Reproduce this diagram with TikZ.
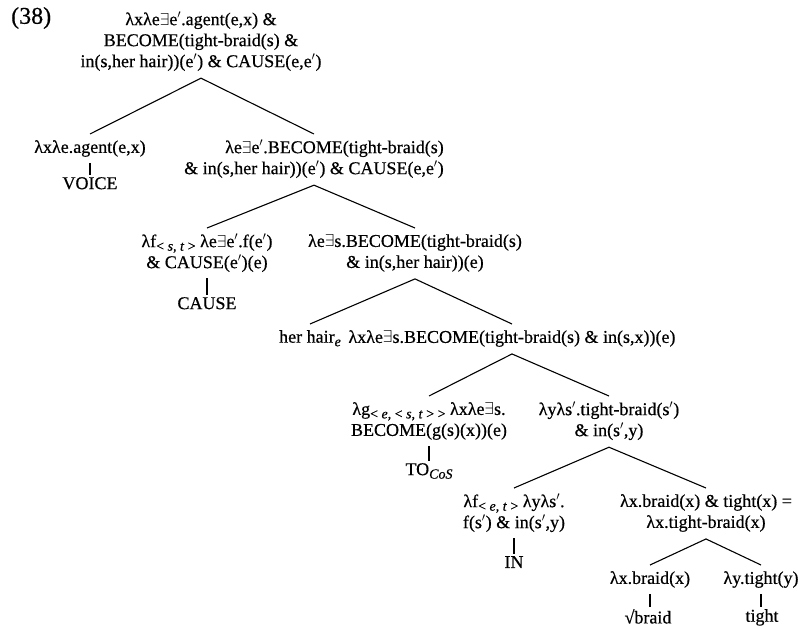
\documentclass[tikz,border=0pt]{standalone}
\usepackage{fontspec}
\setmainfont{Liberation Serif}[FakeBold=0.5]
\newcommand\tsz{\fontsize{18}{21}\selectfont}
\newcommand\EX{$\exists$}
\newcommand\pr{$'$}
\newcommand\sbs[1]{\raisebox{-3.5pt}{\fontsize{14}{15}\selectfont #1}}
\newcommand\ita[1]{\textit{#1}}
\begin{document}
\begin{tikzpicture}[x=1pt,y=-1pt,
  lbl/.style={inner sep=0pt, anchor=north, align=center, font=\tsz},
  br/.style={line width=1.1pt}]
\fill[white] (0,0) rectangle (803,629);
\useasboundingbox (0,0) rectangle (803,629);
\node[anchor=west, inner sep=0pt, font=\fontsize{24}{26}\selectfont] (num) at (11,18) {(38)};
\node[lbl] (root) at (201,12) {λxλe\EX e\pr.agent(e,x) \&\\ BECOME(tight-braid(s) \&\\ in(s,her hair))(e\pr) \& CAUSE(e,e\pr)};
\node[lbl] (agent) at (90,140) {λxλe.agent(e,x)};
\node[lbl] (voice) at (90,177) {VOICE};
\node[lbl, align=right] (bc) at (314,140) {λe\EX e\pr.BECOME(tight-braid(s)\\ \& in(s,her hair))(e\pr) \& CAUSE(e,e\pr)};
\node[lbl] (fc) at (207,234) {λf\sbs{< \ita{s}, \ita{t} >} λe\EX e\pr.f(e\pr)\\ \& CAUSE(e\pr)(e)};
\node[lbl] (cause) at (207,297) {CAUSE};
\node[lbl] (bs) at (415,234) {λe\EX s.BECOME(tight-braid(s)\\ \& in(s,her hair))(e)};
\node[lbl] (hh) at (310,330) {her hair\sbs{\ita{e}}};
\node[lbl] (lxb) at (512,330) {λxλe\EX s.BECOME(tight-braid(s) \& in(s,x))(e)};
\node[lbl] (lg) at (429,402) {λg\sbs{< \ita{e}, < \ita{s}, \ita{t} > >} λxλe\EX s.\\ BECOME(g(s)(x))(e)};
\node[lbl] (to) at (429,463) {TO\sbs{\ita{CoS}}};
\node[lbl] (ly) at (609,402) {λyλs\pr.tight-braid(s\pr)\\ \& in(s\pr,y)};
\node[lbl] (lf) at (514,494) {λf\sbs{< \ita{e}, \ita{t} >} λyλs\pr.\\ f(s\pr) \& in(s\pr,y)};
\node[lbl] (in) at (514,556) {IN};
\node[lbl] (lxbt) at (706,494) {λx.braid(x) \& tight(x) =\\ λx.tight-braid(x)};
\node[lbl] (braid) at (650,571) {λx.braid(x)};
\node[lbl] (tight) at (761,571) {λy.tight(y)};
\node[lbl] (sb) at (648,609) {√braid};
\node[lbl] (tw) at (762,609) {tight};
% binary branches
\foreach \p/\c in {root/agent, root/bc, bc/fc, bc/bs, bs/hh, bs/lxb, lxb/lg, lxb/ly, ly/lf, ly/lxbt, lxbt/braid, lxbt/tight}
  \draw[br] ([yshift=-7pt]\p.south) -- ([yshift=6pt]\c.north);
% unary branches
\foreach \p/\c in {agent/voice, fc/cause, lg/to, lf/in, braid/sb, tight/tw}
  \draw[br] ([yshift=-6pt]\p.south) -- ([yshift=2pt]\p.south |- \c.north);
\end{tikzpicture}
\end{document}
